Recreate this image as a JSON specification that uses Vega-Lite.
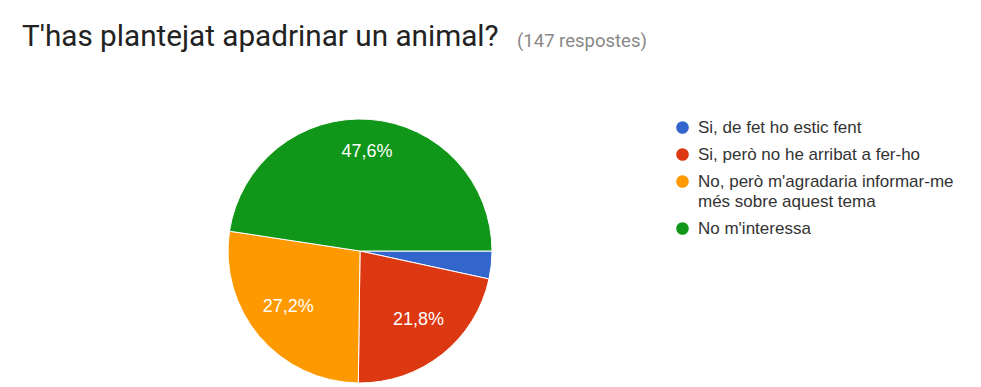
{
  "$schema": "https://vega.github.io/schema/vega-lite/v6.json",
  "width": 676,
  "height": 264,
  "padding": {"left": 22, "top": 22, "right": 0, "bottom": 5},
  "background": "white",
  "title": {
    "text": "T'has plantejat apadrinar un animal?",
    "subtitle": "(147 respostes)",
    "anchor": "start",
    "font": "Roboto",
    "fontSize": 29.7,
    "fontWeight": "normal",
    "color": "#222222",
    "subtitleFont": "Roboto",
    "subtitleFontSize": 18.5,
    "subtitleColor": "#888888",
    "subtitlePadding": -20.8,
    "offset": 64,
    "encode": {"subtitle": {"update": {"dx": {"value": 495}}}}
  },
  "data": {
    "values": [
      {"answer": "Si, de fet ho estic fent", "share": 0.034, "order": 1},
      {"answer": "Si, però no he arribat a fer-ho", "share": 0.218, "order": 2},
      {"answer": "No, però m'agradaria informar-me més sobre aquest tema", "share": 0.272, "order": 3},
      {"answer": "No m'interessa", "share": 0.476, "order": 4}
    ]
  },
  "encoding": {
    "theta": {"field": "share", "type": "quantitative", "stack": true, "scale": {"range": [1.5708, 7.854]}},
    "order": {"field": "order", "type": "quantitative"},
    "color": {
      "field": "answer",
      "type": "nominal",
      "scale": {
        "domain": ["Si, de fet ho estic fent", "Si, però no he arribat a fer-ho", "No, però m'agradaria informar-me més sobre aquest tema", "No m'interessa"],
        "range": ["#3366cc", "#dc3912", "#ff9900", "#109618"]
      },
      "legend": {
        "title": null,
        "orient": "right",
        "offset": -24,
        "padding": 0,
        "symbolType": "circle",
        "symbolSize": 160,
        "symbolStrokeWidth": 0,
        "labelFont": "Liberation Sans",
        "labelFontSize": 17,
        "labelColor": "#333333",
        "labelLimit": 400,
        "rowPadding": 9,
        "labelOffset": 7,
        "labelExpr": "length(datum.label) > 40 ? [slice(datum.label, 0, 32), slice(datum.label, 33)] : datum.label"
      }
    }
  },
  "layer": [
    {"mark": {"type": "arc", "stroke": "white", "strokeWidth": 1}},
    {
      "mark": {"type": "text", "radius": 94, "dy": -5, "font": "Liberation Sans", "fontSize": 18},
      "encoding": {
        "color": {"value": "white"},
        "text": {"field": "share", "type": "quantitative", "format": ".1%", "condition": {"test": "datum.share < 0.05", "value": ""}}
      }
    }
  ],
  "config": {
    "locale": {"number": {"decimal": ",", "thousands": ".", "grouping": [3], "currency": ["", "€"]}},
    "style": {"guide-label": {"lineHeight": 20}}
  }
}
